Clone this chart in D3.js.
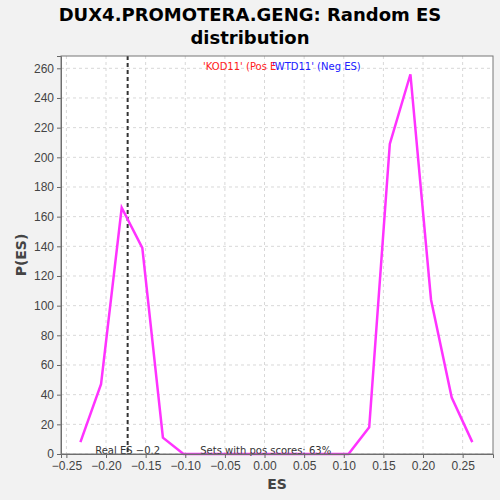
<!DOCTYPE html>
<html>
<head>
<meta charset="utf-8">
<script src="https://cdn.jsdelivr.net/npm/d3@7"></script>
<style>
  body { margin: 0; background: #f2f2f2; }
  svg { display: block; font-family: "DejaVu Sans", sans-serif; }
  .grid line { stroke: #d8d8d8; stroke-dasharray: 3,3; }
  .axis text { fill: #444; font-size: 12px; }
  .axis path, .axis line { stroke: #666; }
</style>
</head>
<body>
<svg id="chart" width="500" height="500"></svg>
<script>
// ES bin centres and their P(ES) values
var esBins = [-0.2323, -0.2063, -0.1802, -0.1542, -0.1282, -0.1022, -0.0761, -0.0501,
              -0.0241, 0.0019, 0.0280, 0.0540, 0.0800, 0.1060, 0.1321, 0.1581,
              0.1841, 0.2101, 0.2362, 0.2622];
var pES = [8, 47, 166, 139, 11, 0, 0, 0, 0, 0, 0, 0, 0, 0, 18, 209, 256, 104, 38, 8];
var xTicks = [-0.25, -0.20, -0.15, -0.10, -0.05, 0.00, 0.05, 0.10, 0.15, 0.20, 0.25];
var yTicks = [0, 20, 40, 60, 80, 100, 120, 140, 160, 180, 200, 220, 240, 260];
var realES = -0.1727;

var svg = d3.select("#chart");
var margin = {top: 56, right: 7, bottom: 46, left: 61},
    width = 500 - margin.left - margin.right,
    height = 500 - margin.top - margin.bottom;

var x = d3.scaleLinear().domain([-0.2568, 0.2883]).range([0, width]),
    y = d3.scaleLinear().domain([0, 268.3]).range([height, 0]);

// title
svg.append("text")
    .attr("x", 250).attr("y", 21)
    .attr("text-anchor", "middle")
    .style("font-size", "18px").style("font-weight", "bold")
    .text("DUX4.PROMOTERA.GENG: Random ES");
svg.append("text")
    .attr("x", 250).attr("y", 44)
    .attr("text-anchor", "middle")
    .style("font-size", "18px").style("font-weight", "bold")
    .text("distribution");

var g = svg.append("g")
    .attr("transform", "translate(" + margin.left + "," + margin.top + ")");

g.append("rect")
    .attr("width", width).attr("height", height)
    .attr("fill", "#fff");

// grid
g.append("g").attr("class", "grid")
  .selectAll("line").data(xTicks)
  .enter().append("line")
    .attr("x1", function(d) { return x(d); })
    .attr("x2", function(d) { return x(d); })
    .attr("y1", 0).attr("y2", height);
g.append("g").attr("class", "grid")
  .selectAll("line").data(yTicks)
  .enter().append("line")
    .attr("x1", 0).attr("x2", width)
    .attr("y1", function(d) { return y(d); })
    .attr("y2", function(d) { return y(d); });

// real ES marker
g.append("line")
    .attr("x1", x(realES)).attr("x2", x(realES))
    .attr("y1", 0).attr("y2", height)
    .attr("stroke", "#333")
    .attr("stroke-width", 2)
    .attr("stroke-dasharray", "4,3");

// distribution
var line = d3.line()
    .x(function(d, i) { return x(esBins[i]); })
    .y(function(d) { return y(d); });

g.append("path")
    .datum(pES)
    .attr("fill", "none")
    .attr("stroke", "#ff33ff")
    .attr("stroke-width", 2.5)
    .attr("d", line);

// annotations
g.append("text")
    .attr("x", x(-0.1727)).attr("y", height - 0.5)
    .attr("text-anchor", "middle")
    .attr("fill", "#333")
    .style("font-size", "10px")
    .text("Real ES \u22120.2");
g.append("text")
    .attr("x", x(0.0015)).attr("y", height - 0.5)
    .attr("text-anchor", "middle")
    .attr("fill", "#333")
    .style("font-size", "10px")
    .text("Sets with pos scores: 63%");

// legend (the blue item covers the tail of the red one)
var leg = g.append("g").style("font-size", "10px");
leg.append("text")
    .attr("x", 142).attr("y", 14)
    .attr("fill", "#ff2020")
    .text("'KOD11' (Pos E");
leg.append("text")
    .attr("x", 211).attr("y", 14)
    .attr("fill", "#2020ff")
    .text("'WTD11' (Neg ES)");

// axes
g.append("g")
    .attr("class", "axis")
    .attr("transform", "translate(0," + height + ")")
    .call(d3.axisBottom(x).tickValues(xTicks).tickFormat(d3.format(".2f")).tickSizeOuter(0).tickSize(4));
g.append("g")
    .attr("class", "axis")
    .call(d3.axisLeft(y).tickValues(yTicks).tickSizeOuter(0).tickSize(4));

g.append("rect")
    .attr("width", width).attr("height", height)
    .attr("fill", "none").attr("stroke", "#777");

// axis titles
svg.append("text")
    .attr("x", margin.left + width / 2).attr("y", 489)
    .attr("text-anchor", "middle")
    .attr("fill", "#444")
    .style("font-size", "14px").style("font-weight", "bold")
    .text("ES");
svg.append("text")
    .attr("transform", "translate(26," + (margin.top + height / 2) + ") rotate(-90)")
    .attr("text-anchor", "middle")
    .attr("fill", "#444")
    .style("font-size", "14px").style("font-weight", "bold")
    .text("P(ES)");
</script>
</body>
</html>
